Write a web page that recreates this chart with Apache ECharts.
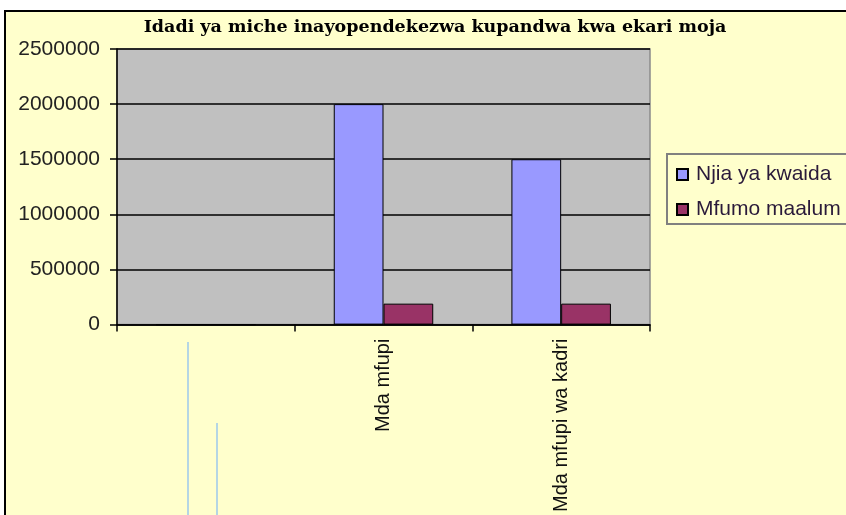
<!DOCTYPE html>
<html>
<head>
<meta charset="utf-8">
<script src="https://cdn.jsdelivr.net/npm/echarts@6/dist/echarts.min.js"></script>
<style>
html,body{margin:0;padding:0;background:#ffffff;}
#chart{width:846px;height:515px;}
</style>
</head>
<body>
<div id="chart"></div>
<script>
var titleText = 'Idadi ya miche inayopendekezwa kupandwa kwa ekari moja';
var categories = ['', 'Mda mfupi', 'Mda mfupi wa kadri'];
var seriesNames = ['Njia ya kwaida', 'Mfumo maalum'];
var njiaYaKwaida = [0, 2000000, 1500000];
var mfumoMaalum = [0, 190000, 190000];
var yTicks = [0, 500000, 1000000, 1500000, 2000000, 2500000];

var chart = echarts.init(document.getElementById('chart'), null, {renderer: 'canvas'});
var option = {
  backgroundColor: '#ffffff',
  animation: false,
  title: {
    text: titleText,
    left: 430,
    textAlign: 'center',
    top: 13,
    textStyle: {fontFamily: 'DejaVu Serif', fontWeight: 'bold', fontSize: 17.5, color: '#000'}
  },
  graphic: [
    {type: 'rect', z: -100, zlevel: 0, silent: true,
     shape: {x: 5, y: 11, width: 900, height: 600},
     style: {fill: '#FFFFCC', stroke: '#000', lineWidth: 2}},
    {type: 'line', silent: true, shape: {x1: 188, y1: 342, x2: 188, y2: 520},
     style: {stroke: '#9cc8ec', lineWidth: 1.5}},
    {type: 'line', silent: true, shape: {x1: 217, y1: 423, x2: 217, y2: 520},
     style: {stroke: '#9cc8ec', lineWidth: 1.5}}
  ],
  legend: {
    orient: 'vertical',
    left: 667,
    top: 154,
    padding: [10, 12, 4, 9],
    itemGap: 14,
    itemWidth: 11,
    itemHeight: 11,
    icon: 'rect',
    backgroundColor: '#FFFFCC',
    borderColor: '#808080',
    borderWidth: 2,
    textStyle: {fontFamily: 'Liberation Sans', fontSize: 21, color: '#2a1a3a', padding: [0, 0, 0, 3], lineHeight: 20},
    data: seriesNames
  },
  grid: {
    left: 117, top: 49, right: 196, bottom: 190,
    show: true, backgroundColor: '#C0C0C0', borderColor: '#8a8a8a', borderWidth: 1.5,
    containLabel: false
  },
  xAxis: {
    type: 'category',
    data: categories,
    axisLine: {lineStyle: {color: '#000', width: 1.5}},
    axisTick: {show: true, length: 7, lineStyle: {color: '#000', width: 1.5}},
    axisLabel: {rotate: 90, margin: 14, fontFamily: 'Liberation Sans', fontSize: 20, color: '#111'},
    splitLine: {show: false}
  },
  yAxis: {
    type: 'value',
    min: 0, max: 2500000, interval: 500000,
    axisLine: {show: true, lineStyle: {color: '#000', width: 1.5}},
    axisTick: {show: true, length: 7, lineStyle: {color: '#000', width: 1.5}},
    axisLabel: {margin: 17, fontFamily: 'Liberation Sans', fontSize: 21, color: '#222',
      formatter: function (v) { return yTicks.indexOf(v) >= 0 ? String(v) : ''; }},
    splitLine: {show: true, lineStyle: {color: '#000', width: 1.5}}
  },
  series: [
    {name: seriesNames[0], type: 'bar', data: njiaYaKwaida, barGap: '0%', barCategoryGap: '44%',
     itemStyle: {color: '#9999FF', borderColor: '#000', borderWidth: 1}},
    {name: seriesNames[1], type: 'bar', data: mfumoMaalum, barGap: '0%', barCategoryGap: '44%',
     itemStyle: {color: '#993366', borderColor: '#000', borderWidth: 1}}
  ]
};
chart.setOption(option);
</script>
</body>
</html>
